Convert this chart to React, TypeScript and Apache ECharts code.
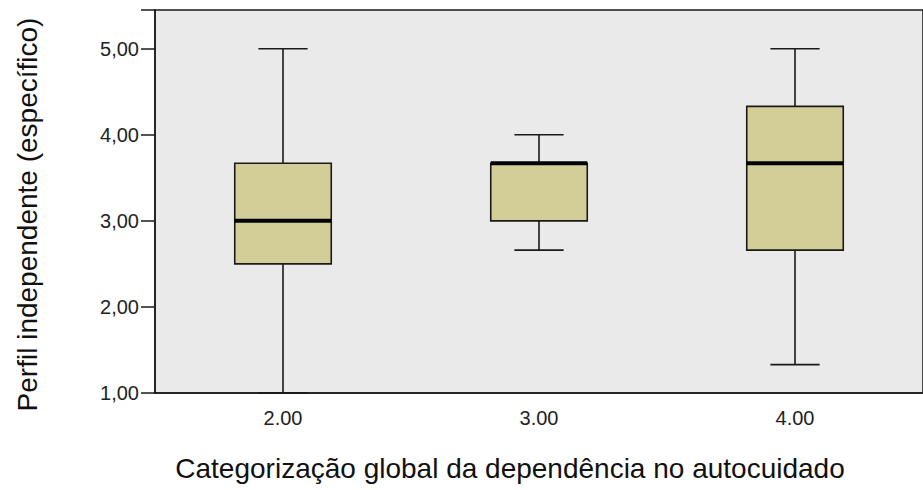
import React, { useEffect, useRef } from "react";
import * as echarts from "echarts";

const categories = ["2.00", "3.00", "4.00"];
const mins = [1.0, 2.66, 1.33];
const q1s = [2.5, 3.0, 2.66];
const medians = [3.0, 3.67, 3.67];
const q3s = [3.67, 3.67, 4.33];
const maxs = [5.0, 4.0, 5.0];
const yTicks = [1, 2, 3, 4, 5];

export default function App() {
  const ref = useRef<HTMLDivElement>(null);
  useEffect(() => {
    document.body.style.margin = "0";
    const chart = echarts.init(ref.current!, null, { renderer: "svg" });
    const data = categories.map((_, i) => [i, mins[i], q1s[i], medians[i], q3s[i], maxs[i]]);
    const font = "'Liberation Sans', Arial, sans-serif";
    chart.setOption({
      animation: false,
      backgroundColor: "#ffffff",
      grid: {
        left: 155,
        top: 10,
        bottom: 97,
        right: -14,
        show: true,
        backgroundColor: "#eaeaea",
        borderColor: "#1a1a1a",
        borderWidth: 1.5,
      },
      xAxis: {
        type: "category",
        data: categories,
        boundaryGap: true,
        name: "Categorização global da dependência no autocuidado",
        nameLocation: "middle",
        nameGap: 61,
        nameTextStyle: { fontFamily: font, fontSize: 28, color: "#111", padding: [0, 58, 0, 0] },
        axisLine: { lineStyle: { color: "#1a1a1a", width: 1.5 } },
        axisTick: { alignWithLabel: true, length: 14, lineStyle: { color: "#1a1a1a", width: 1.5 } },
        axisLabel: { fontFamily: font, fontSize: 20, color: "#222", margin: 15 },
        splitLine: { show: false },
      },
      yAxis: {
        type: "value",
        min: 1,
        max: 5.45,
        interval: 1,
        name: "Perfil independente (específico)",
        nameLocation: "middle",
        nameGap: 114,
        nameTextStyle: { fontFamily: font, fontSize: 28, color: "#111", padding: [0, 26, 0, 0] },
        axisLine: { show: true, lineStyle: { color: "#1a1a1a", width: 1.5 } },
        axisTick: { show: true, length: 14, lineStyle: { color: "#1a1a1a", width: 1.5 } },
        axisLabel: {
          fontFamily: font,
          fontSize: 20,
          color: "#222",
          margin: 16,
          formatter: (v: number) => (yTicks.includes(v) ? v.toFixed(2).replace(".", ",") : ""),
        },
        splitLine: { show: false },
      },
      series: [
        {
          type: "custom",
          data,
          renderItem: (params: any, api: any) => {
            const x = api.value(0);
            const band = api.size([1, 0])[0];
            const bw = band * 0.377;
            const cw = bw * 0.51;
            const pMin = api.coord([x, api.value(1)]);
            const pQ1 = api.coord([x, api.value(2)]);
            const pMed = api.coord([x, api.value(3)]);
            const pQ3 = api.coord([x, api.value(4)]);
            const pMax = api.coord([x, api.value(5)]);
            const cx = pMin[0];
            const lineStyle = { stroke: "#1a1a1a", lineWidth: 1.6 };
            return {
              type: "group",
              children: [
                { type: "line", shape: { x1: cx, y1: pMax[1], x2: cx, y2: pQ3[1] }, style: lineStyle },
                { type: "line", shape: { x1: cx, y1: pQ1[1], x2: cx, y2: pMin[1] }, style: lineStyle },
                { type: "line", shape: { x1: cx - cw / 2, y1: pMax[1], x2: cx + cw / 2, y2: pMax[1] }, style: lineStyle },
                { type: "line", shape: { x1: cx - cw / 2, y1: pMin[1], x2: cx + cw / 2, y2: pMin[1] }, style: lineStyle },
                {
                  type: "rect",
                  shape: { x: cx - bw / 2, y: pQ3[1], width: bw, height: pQ1[1] - pQ3[1] },
                  style: { fill: "#d3ce98", stroke: "#1a1a1a", lineWidth: 1.6 },
                },
                {
                  type: "line",
                  shape: { x1: cx - bw / 2, y1: pMed[1], x2: cx + bw / 2, y2: pMed[1] },
                  style: { stroke: "#000000", lineWidth: 4 },
                },
              ],
            };
          },
        },
      ],
    });
    return () => chart.dispose();
  }, []);
  return <div ref={ref} style={{ width: 923, height: 490 }} />;
}
